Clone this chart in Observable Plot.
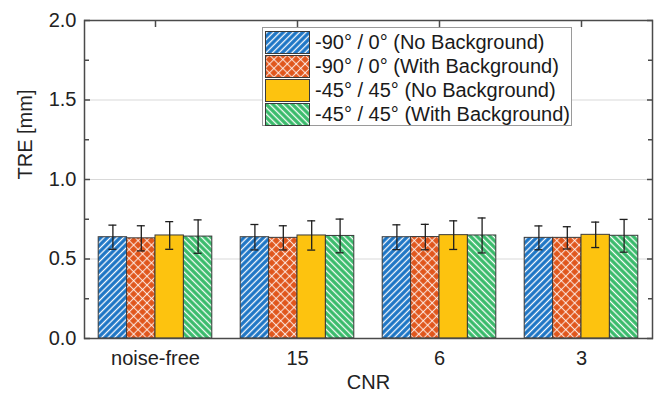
<!DOCTYPE html>
<html>
<head>
<meta charset="utf-8">
<script src="https://cdn.jsdelivr.net/npm/d3@7"></script>
<script src="https://cdn.jsdelivr.net/npm/@observablehq/plot@0.6"></script>
<style>
  html, body { margin: 0; padding: 0; background: #fff; }
  #wrap { position: relative; width: 655px; height: 396px; font-family: "Liberation Sans", Arial, sans-serif; }
  #legend { position: absolute; left: 262px; top: 27px; width: 310px; height: 99px; border: 1px solid #9a9a9a; background: #fff; padding: 2px 0 0 2px; box-sizing: border-box; }
  .item { display: flex; align-items: center; height: 24px; font-size: 20px; color: #1a1a1a; white-space: nowrap; }
  .item svg { margin-right: 5px; flex: none; }
</style>
</head>
<body>
<svg width="0" height="0" style="position:absolute">
  <defs>
    <pattern id="p0" patternUnits="userSpaceOnUse" width="4.6" height="4.6" patternTransform="rotate(45)">
      <rect width="4.6" height="4.6" fill="#1b74c4"/>
      <line x1="2.3" y1="0" x2="2.3" y2="4.6" stroke="#ffffff" stroke-width="1.3"/>
    </pattern>
    <pattern id="p1" patternUnits="userSpaceOnUse" width="6.3" height="6.3" patternTransform="rotate(45)">
      <rect width="6.3" height="6.3" fill="#e0561c"/>
      <line x1="3.15" y1="0" x2="3.15" y2="6.3" stroke="#ffffff" stroke-opacity="0.8" stroke-width="1.1"/>
      <line x1="0" y1="3.15" x2="6.3" y2="3.15" stroke="#ffffff" stroke-opacity="0.8" stroke-width="1.1"/>
    </pattern>
    <pattern id="p2" patternUnits="userSpaceOnUse" width="6" height="6">
      <rect width="6" height="6" fill="#fdc30f"/>
    </pattern>
    <pattern id="p3" patternUnits="userSpaceOnUse" width="4.6" height="4.6" patternTransform="rotate(-45)">
      <rect width="4.6" height="4.6" fill="#38ba6a"/>
      <line x1="2.3" y1="0" x2="2.3" y2="4.6" stroke="#ffffff" stroke-width="1.3"/>
    </pattern>
  </defs>
</svg>
<div id="wrap">
  <div id="chart"></div>
  <div id="legend"></div>
</div>
<script>
// ---- data ----
const cnr = ["noise-free", "15", "6", "3"];
const series = [
  "-90° / 0° (No Background)",
  "-90° / 0° (With Background)",
  "-45° / 45° (No Background)",
  "-45° / 45° (With Background)"
];
// mean TRE per CNR level, one array per series
const meanNoBg90   = [0.637, 0.637, 0.637, 0.633];
const meanBg90     = [0.630, 0.633, 0.638, 0.633];
const meanNoBg45   = [0.648, 0.648, 0.650, 0.652];
const meanBg45     = [0.641, 0.645, 0.648, 0.646];
// standard deviation (error bar half-length)
const sdNoBg90 = [0.076, 0.080, 0.078, 0.075];
const sdBg90   = [0.079, 0.076, 0.080, 0.070];
const sdNoBg45 = [0.087, 0.092, 0.090, 0.080];
const sdBg45   = [0.105, 0.106, 0.110, 0.103];
const yMajor = [0, 0.5, 1.0, 1.5, 2.0];
const yMinor = [0.25, 0.75, 1.25, 1.75];
const yGrid  = [0.5, 1.0, 1.5];

const means = [meanNoBg90, meanBg90, meanNoBg45, meanBg45];
const sds = [sdNoBg90, sdBg90, sdNoBg45, sdBg45];
const fills = ["url(#p0)", "url(#p1)", "url(#p2)", "url(#p3)"];

const rows = series.map((s, i) => cnr.map((c, j) => ({
  series: s, cnr: c, mean: means[i][j], lo: means[i][j] - sds[i][j], hi: means[i][j] + sds[i][j]
})));

// ---- layout ----
const width = 655, height = 396;
const mL = 84, mR = 3, mT = 20, mB = 58;
const pIn = 0.2, pOut = 0.1;
const step = (width - mL - mR) / (cnr.length - pIn + 2 * pOut);
const bw = step * (1 - pIn);
const sub = bw / series.length;
const capInset = (sub - 8) / 2;
const ink = "#3a3a3a";

const marks = [
  Plot.gridY(yGrid, {stroke: "#d9d9d9", strokeOpacity: 1, strokeWidth: 1})
];
rows.forEach((r, i) => {
  const left = i * sub, right = (series.length - 1 - i) * sub;
  marks.push(Plot.barY(r, {x: "cnr", y: "mean", fill: fills[i], stroke: ink, strokeWidth: 1,
    insetLeft: left, insetRight: right}));
});
rows.forEach((r, i) => {
  const left = i * sub, right = (series.length - 1 - i) * sub;
  marks.push(Plot.ruleX(r, {x: "cnr", y1: "lo", y2: "hi", dx: (i - (series.length - 1) / 2) * sub, stroke: "#1e1e1e", strokeWidth: 1.3}));
  marks.push(Plot.tickY(r, {x: "cnr", y: "hi", insetLeft: left + capInset, insetRight: right + capInset, stroke: "#1e1e1e", strokeWidth: 1.3}));
  marks.push(Plot.tickY(r, {x: "cnr", y: "lo", insetLeft: left + capInset, insetRight: right + capInset, stroke: "#1e1e1e", strokeWidth: 1.3}));
});
marks.push(
  Plot.frame({stroke: "#4a4a4a", strokeWidth: 1.5}),
  Plot.axisY({ticks: yMajor, tickSize: 0, tickPadding: 8, tickFormat: d3.format(".1f"), label: null, fontSize: 20, fill: "#222"}),
  Plot.axisY({ticks: yMajor, tickSize: 6, dx: 6, tickFormat: () => "", label: null, stroke: "#4a4a4a", strokeWidth: 1.5}),
  Plot.axisY({ticks: yMinor, tickSize: 5, dx: 5, tickFormat: () => "", label: null, stroke: "#4a4a4a", strokeWidth: 1.5}),
  Plot.axisY({anchor: "right", ticks: yMajor, tickSize: 6, dx: -6, tickFormat: () => "", label: null, stroke: "#4a4a4a", strokeWidth: 1.5}),
  Plot.axisY({anchor: "right", ticks: yMinor, tickSize: 5, dx: -5, tickFormat: () => "", label: null, stroke: "#4a4a4a", strokeWidth: 1.5}),
  Plot.axisX({anchor: "top", tickSize: 6, dy: 6, tickFormat: () => "", label: null, stroke: "#4a4a4a", strokeWidth: 1.5}),
  Plot.axisX({anchor: "bottom", tickSize: 0, tickPadding: 12, label: null, fontSize: 20, fill: "#222"}),
  Plot.text(["TRE [mm]"], {text: d => d, frameAnchor: "left", dx: -59, rotate: -90, fontSize: 20, fill: "#222"}),
  Plot.text(["CNR"], {text: d => d, frameAnchor: "bottom", dy: 50, fontSize: 20, fill: "#222"})
);

const chart = Plot.plot({
  width, height,
  marginLeft: mL, marginRight: mR, marginTop: mT, marginBottom: mB,
  style: {fontFamily: '"Liberation Sans", Arial, sans-serif', fontSize: "20px", background: "#fff", overflow: "visible"},
  x: {type: "band", domain: cnr, paddingInner: pIn, paddingOuter: pOut, round: false},
  y: {domain: [0, 2]},
  marks
});
document.getElementById("chart").appendChild(chart);

// ---- legend ----
const legend = d3.select("#legend");
series.forEach((s, i) => {
  const it = legend.append("div").attr("class", "item");
  const sv = it.append("svg").attr("width", 45).attr("height", 23);
  sv.append("rect").attr("x", 0.5).attr("y", 0.5).attr("width", 44).attr("height", 22)
    .attr("fill", fills[i]).attr("stroke", ink).attr("stroke-width", 1);
  it.append("span").text(s);
});
</script>
</body>
</html>
